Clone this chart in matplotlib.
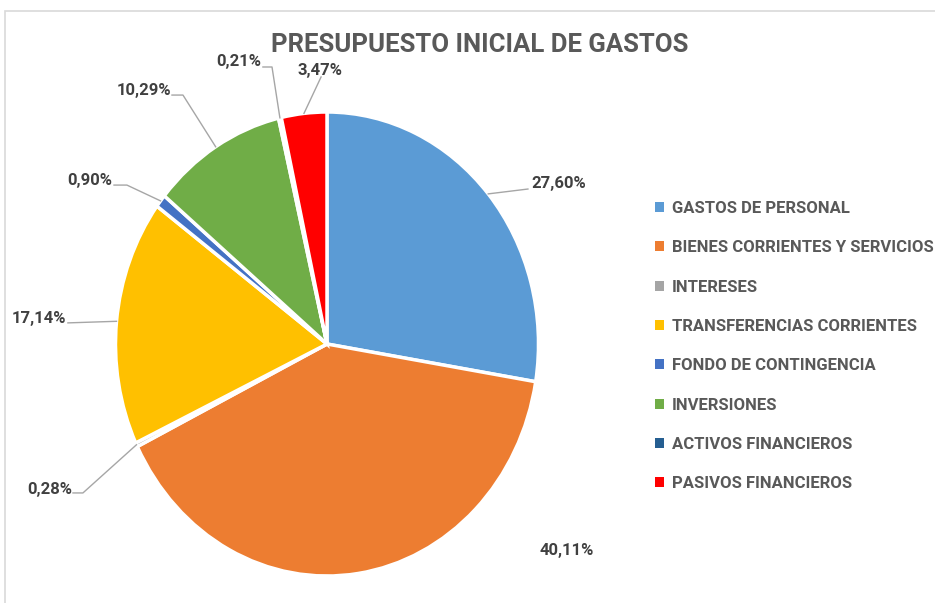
import matplotlib
matplotlib.use("Agg")
import numpy as np
import matplotlib.pyplot as plt
from matplotlib.patches import Patch, Rectangle
from matplotlib import font_manager

# data
categories = ["GASTOS DE PERSONAL", "BIENES CORRIENTES Y SERVICIOS", "INTERESES",
              "TRANSFERENCIAS CORRIENTES", "FONDO DE CONTINGENCIA", "INVERSIONES",
              "ACTIVOS FINANCIEROS", "PASIVOS FINANCIEROS"]
shares = [27.60, 40.11, 0.28, 17.14, 0.90, 10.29, 0.21, 3.47]
label_text = ["27,60%", "40,11%", "0,28%", "17,14%", "0,90%", "10,29%", "0,21%", "3,47%"]
colors = ["#5B9BD5", "#ED7D31", "#A5A5A5", "#FFC000", "#4472C4", "#70AD47", "#255E91", "#FF0000"]

# label layout (axes data units, pie radius = 1): text pos, alignment, elbow points
label_pos = [(0.965, 0.690), (1.135, -0.888), (-1.206, -0.629), (-1.234, 0.112),
             (-1.017, 0.703), (-0.738, 1.091), (-0.312, 1.216), (-0.033, 1.177)]
label_ha = ["left", "center", "right", "right", "right", "right", "right", "center"]
leader_pts = [[(0.950, 0.668)], None, [(-1.154, -0.642), (-1.201, -0.642)],
              [(-1.225, 0.091)], [(-0.946, 0.685), (-1.007, 0.685)],
              [(-0.681, 1.073), (-0.733, 1.073)], [(-0.260, 1.194), (-0.303, 1.194)],
              [(-0.028, 1.151)]]

available = {f.name for f in font_manager.fontManager.ttflist}
narrow = "Liberation Sans Narrow" if "Liberation Sans Narrow" in available else "Roboto"
plt.rcParams['font.family'] = [narrow, "DejaVu Sans"]

W, H = 935, 603
fig = plt.figure(figsize=(W / 100, H / 100), dpi=100)

# light frame of the chart area
fig.patches.append(Rectangle((5 / W, -0.05), 1.2, 1 - 11 / H + 0.05, transform=fig.transFigure,
                             fill=False, edgecolor="#D9D9D9", linewidth=1.2))

cx, cy, rx, ry = 327, 344, 211.5, 232
ax = fig.add_axes([(cx - rx) / W, (H - cy - ry) / H, 2 * rx / W, 2 * ry / H])
wedges, _ = ax.pie(shares, colors=colors, startangle=90, counterclock=False,
                   wedgeprops=dict(edgecolor="white", linewidth=2.5))
ax.set_aspect("auto")
ax.set_xlim(-1, 1)
ax.set_ylim(-1, 1)

for w, txt, pos, ha, pts in zip(wedges, label_text, label_pos, label_ha, leader_pts):
    mid = np.deg2rad((w.theta1 + w.theta2) / 2)
    if pts:
        xs = [np.cos(mid)] + [p[0] for p in pts]
        ys = [np.sin(mid)] + [p[1] for p in pts]
        ax.plot(xs, ys, color="#A6A6A6", linewidth=1, clip_on=False)
    ax.text(pos[0], pos[1], txt, ha=ha, va="center", fontsize=12, fontweight="bold",
            color="#404040", clip_on=False)

fig.text(480 / W, 1 - 45 / H, "PRESUPUESTO INICIAL DE GASTOS", ha="center", va="center",
         fontsize=18.5, fontweight="bold", color="#595959")

handles = [Patch(facecolor=c, edgecolor="none") for c in colors]
fig.legend(handles, categories, loc="upper left", bbox_to_anchor=(655 / W, 1 - 201 / H),
           frameon=False, handlelength=0.55, handleheight=0.55,
           handletextpad=0.45, labelspacing=1.46, borderpad=0, borderaxespad=0,
           prop=dict(weight="bold", size=12), labelcolor="#595959")

fig.savefig("out.png", dpi=100)
